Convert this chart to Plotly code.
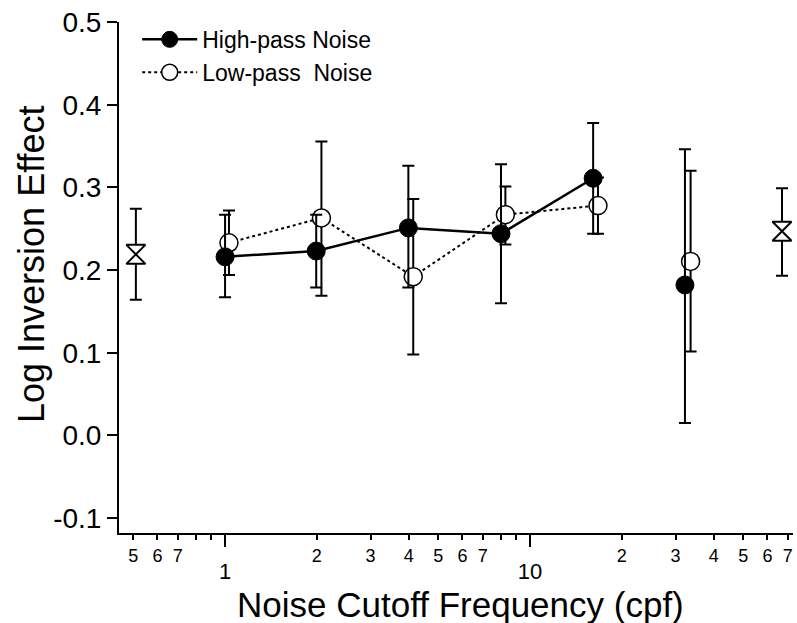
import math
import plotly.graph_objects as go

# ---------------- data ----------------
hp_freq = [1.0, 1.99, 3.99, 8.03, 16.1, 32.2]
hp_val = [0.216, 0.223, 0.251, 0.244, 0.311, 0.182]
hp_top = [0.267, 0.267, 0.326, 0.328, 0.378, 0.346]
hp_bot = [0.167, 0.179, 0.179, 0.160, 0.244, 0.015]

lp_freq = [1.03, 2.07, 4.14, 8.3, 16.7, 33.6]
lp_val = [0.233, 0.263, 0.192, 0.267, 0.278, 0.2105]
lp_top = [0.272, 0.3555, 0.286, 0.301, 0.312, 0.320]
lp_bot = [0.194, 0.169, 0.098, 0.231, 0.244, 0.1015]

ref_freq = [0.51, 67.0]
ref_val = [0.219, 0.247]
ref_top = [0.274, 0.299]
ref_bot = [0.164, 0.193]

n_connected = 5  # first five points are joined by lines

y_tickvals = [-0.1, 0.0, 0.1, 0.2, 0.3, 0.4, 0.5]
y_ticktext = ["-0.1", "0.0", "0.1", "0.2", "0.3", "0.4", "0.5"]

x_major_vals = [1, 10]
x_major_text = ["1", "10"]
x_minor_vals = [0.5, 0.6, 0.7, 0.8, 0.9, 2, 3, 4, 5, 6, 7, 8, 9, 20, 30, 40, 50, 60, 70]
x_minor_text = ["5", "6", "7", "", "", "2", "3", "4", "5", "6", "7", "", "", "2", "3", "4", "5", "6", "7"]

x_title = "Noise Cutoff Frequency (cpf)"
y_title = "Log Inversion Effect"

x_range = [0.449, 72.8]
y_range = [-0.118, 0.5]

FONT = "Liberation Sans, Arial, Helvetica, sans-serif"


def plus(v, t):
    return [a - b for a, b in zip(t, v)]


def minus(v, b):
    return [a - c for a, c in zip(v, b)]


def err(v, t, b):
    return dict(type="data", array=plus(v, t), arrayminus=minus(v, b),
                color="black", thickness=2, width=6, visible=True)


fig = go.Figure()

# reference (bowtie) points
fig.add_trace(go.Scatter(
    x=ref_freq, y=ref_val, mode="markers", showlegend=False,
    marker=dict(symbol="hourglass", size=19, color="white",
                line=dict(color="black", width=2)),
    error_y=err(ref_val, ref_top, ref_bot)))

# low-pass
fig.add_trace(go.Scatter(
    x=lp_freq[:n_connected], y=lp_val[:n_connected], mode="lines+markers",
    name="Low-pass  Noise",
    line=dict(color="black", width=2, dash="dot"),
    marker=dict(symbol="circle", size=18, color="white",
                line=dict(color="black", width=1.5)),
    error_y=err(lp_val[:n_connected], lp_top[:n_connected], lp_bot[:n_connected])))
fig.add_trace(go.Scatter(
    x=lp_freq[n_connected:], y=lp_val[n_connected:], mode="markers", showlegend=False,
    marker=dict(symbol="circle", size=18, color="white",
                line=dict(color="black", width=1.5)),
    error_y=err(lp_val[n_connected:], lp_top[n_connected:], lp_bot[n_connected:])))

# high-pass
fig.add_trace(go.Scatter(
    x=hp_freq[:n_connected], y=hp_val[:n_connected], mode="lines+markers",
    name="High-pass Noise",
    line=dict(color="black", width=2.5),
    marker=dict(symbol="circle", size=18, color="black",
                line=dict(color="black", width=1)),
    error_y=err(hp_val[:n_connected], hp_top[:n_connected], hp_bot[:n_connected])))
fig.add_trace(go.Scatter(
    x=hp_freq[n_connected:], y=hp_val[n_connected:], mode="markers", showlegend=False,
    marker=dict(symbol="circle", size=18, color="black",
                line=dict(color="black", width=1)),
    error_y=err(hp_val[n_connected:], hp_top[n_connected:], hp_bot[n_connected:])))

# empty trace to keep the minor-label axis alive
fig.add_trace(go.Scatter(x=[], y=[], xaxis="x2", showlegend=False))

xr = [math.log10(x_range[0]), math.log10(x_range[1])]

fig.update_layout(
    width=797, height=623,
    margin=dict(l=119, r=4, t=22, b=90),
    paper_bgcolor="white", plot_bgcolor="white",
    font=dict(family=FONT, color="black"),
    showlegend=True,
    legend=dict(x=0.027, y=1.008, xanchor="left", yanchor="top",
                bgcolor="rgba(0,0,0,0)", font=dict(size=23, family=FONT),
                itemwidth=55, traceorder="reversed", tracegroupgap=0),
    xaxis=dict(type="log", range=xr, tickmode="array",
               tickvals=x_major_vals, ticktext=x_major_text,
               ticks="outside", ticklen=12, tickwidth=2, tickcolor="black",
               showline=True, linewidth=2, linecolor="black",
               showgrid=False, zeroline=False,
               tickfont=dict(size=22, family=FONT),
               ticklabelstandoff=6),
    xaxis2=dict(type="log", range=xr, overlaying="x", anchor="y", side="bottom",
                tickmode="array", tickvals=x_minor_vals, ticktext=x_minor_text,
                ticks="outside", ticklen=6, tickwidth=2, tickcolor="black",
                showline=False, showgrid=False, zeroline=False,
                tickfont=dict(size=18, family=FONT)),
    yaxis=dict(range=y_range, tickmode="array",
               tickvals=y_tickvals, ticktext=y_ticktext,
               ticks="outside", ticklen=10, tickwidth=2, tickcolor="black",
               showline=True, linewidth=2, linecolor="black",
               showgrid=False, zeroline=False,
               tickfont=dict(size=28, family=FONT)),
    annotations=[
        dict(text=x_title, xref="paper", yref="paper",
             x=(460 - 119) / 674, y=-(604 - 533) / 511,
             xanchor="center", yanchor="middle", showarrow=False,
             font=dict(size=35, family=FONT)),
        dict(text=y_title, xref="paper", yref="paper", textangle=-90,
             x=(31 - 119) / 674, y=(533 - 264) / 511,
             xanchor="center", yanchor="middle", showarrow=False,
             font=dict(size=36, family=FONT)),
    ],
)

fig.write_html("out.html")
